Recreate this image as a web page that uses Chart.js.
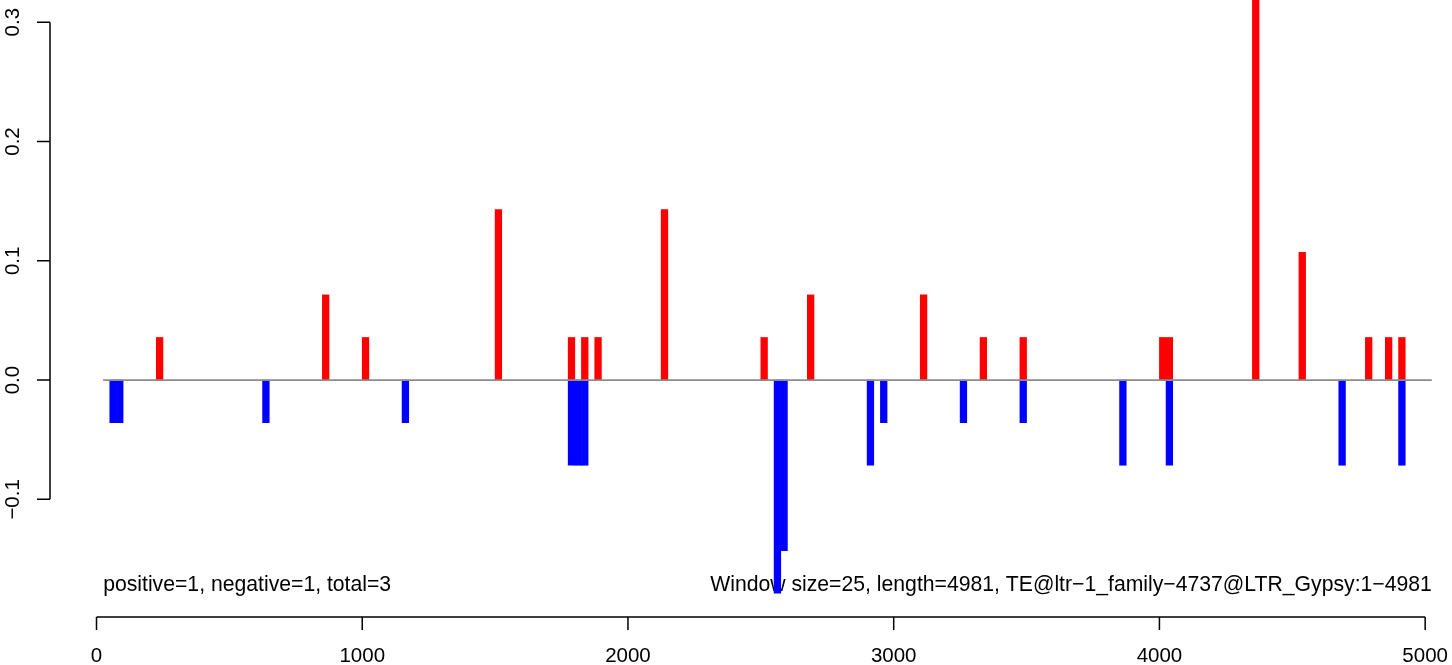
<!DOCTYPE html>
<html><head><meta charset="utf-8">
<script src="https://cdn.jsdelivr.net/npm/chart.js@4"></script>
<style>html,body{margin:0;padding:0;background:#fff;overflow:hidden}#wrap{width:1452px;height:665px;position:relative}</style>
</head><body><div id="wrap"><canvas id="c"></canvas></div>
<script>
const windowSize = 25;
const posStarts = [225, 850, 1000, 1500, 1775, 1825, 1875, 2125, 2500, 2675, 3100, 3325, 3475, 4000, 4025, 4350, 4525, 4775, 4850, 4900];
const posValues = [0.0357, 0.0714, 0.0357, 0.1429, 0.0357, 0.0357, 0.0357, 0.1429, 0.0357, 0.0714, 0.0714, 0.0357, 0.0357, 0.0357, 0.0357, 0.3214, 0.1071, 0.0357, 0.0357, 0.0357];
const negStarts = [50, 75, 625, 1150, 1775, 1800, 1825, 2550, 2575, 2900, 2950, 3250, 3475, 3850, 4025, 4675, 4900];
const negValues = [-0.0357, -0.0357, -0.0357, -0.0357, -0.0714, -0.0714, -0.0714, -0.1786, -0.1429, -0.0714, -0.0357, -0.0357, -0.0357, -0.0714, -0.0714, -0.0714, -0.0714];
const baselineX = [25, 5025];
const xTicks = [0, 1000, 2000, 3000, 4000, 5000];
const xTickLabels = ['0', '1000', '2000', '3000', '4000', '5000'];
const yTicks = [-0.1, 0.0, 0.1, 0.2, 0.3];
const yTickLabels = ['\u22120.1', '0.0', '0.1', '0.2', '0.3'];
const leftNote = 'positive=1, negative=1, total=3';
const rightNote = 'Window size=25, length=4981, TE@ltr\u22121_family\u22124737@LTR_Gypsy:1\u22124981';

const FONT = '"Liberation Sans", Arial, Helvetica, sans-serif';

const rAxes = {
  id: 'rAxes',
  beforeDatasetsDraw(chart) {
    const ctx = chart.ctx, xs = chart.scales.x, ys = chart.scales.y;
    ctx.save();
    ctx.fillStyle = '#000';
    ctx.font = '21.2px ' + FONT;
    ctx.textBaseline = 'middle';
    const ny = ys.getPixelForValue(-0.1718);
    ctx.textAlign = 'left';
    ctx.fillText(leftNote, xs.getPixelForValue(baselineX[0]), ny);
    ctx.textAlign = 'right';
    ctx.fillText(rightNote, xs.getPixelForValue(baselineX[1]), ny);
    ctx.restore();
  },
  afterDraw(chart) {
    const ctx = chart.ctx, xs = chart.scales.x, ys = chart.scales.y;
    const ca = chart.chartArea;
    ctx.save();
    ctx.strokeStyle = '#000'; ctx.fillStyle = '#000'; ctx.lineWidth = 1.5;
    // x axis
    const ax = ca.bottom;
    ctx.beginPath();
    ctx.moveTo(xs.getPixelForValue(xTicks[0]), ax);
    ctx.lineTo(xs.getPixelForValue(xTicks[xTicks.length - 1]), ax);
    xTicks.forEach(v => { const p = xs.getPixelForValue(v); ctx.moveTo(p, ax); ctx.lineTo(p, ax + 13); });
    ctx.stroke();
    ctx.font = '20.5px ' + FONT;
    ctx.textAlign = 'center'; ctx.textBaseline = 'middle';
    xTicks.forEach((v, i) => ctx.fillText(xTickLabels[i], xs.getPixelForValue(v), ax + 39));
    // y axis
    const ay = ca.left;
    ctx.beginPath();
    ctx.moveTo(ay, ys.getPixelForValue(yTicks[0]));
    ctx.lineTo(ay, ys.getPixelForValue(yTicks[yTicks.length - 1]));
    yTicks.forEach(v => { const p = ys.getPixelForValue(v); ctx.moveTo(ay, p); ctx.lineTo(ay - 13, p); });
    ctx.stroke();
    yTicks.forEach((v, i) => {
      ctx.save();
      ctx.translate(ay - 37, ys.getPixelForValue(v));
      ctx.rotate(-Math.PI / 2);
      ctx.fillText(yTickLabels[i], 0, 0);
      ctx.restore();
    });
    ctx.restore();
  }
};

new Chart(document.getElementById('c'), {
  type: 'bar',
  data: {
    datasets: [
      { type: 'line', data: baselineX.map(x => ({ x, y: 0 })), borderColor: '#8c8c8c', borderWidth: 1.6, pointRadius: 0, order: 0 },
      { data: posStarts.map((s, i) => ({ x: s + windowSize / 2, y: posValues[i] })), backgroundColor: '#ff0000', grouped: false, categoryPercentage: 1, barPercentage: 1, order: 1 },
      { data: negStarts.map((s, i) => ({ x: s + windowSize / 2, y: negValues[i] })), backgroundColor: '#0000ff', grouped: false, categoryPercentage: 1, barPercentage: 1, order: 2 }
    ]
  },
  options: {
    responsive: true, maintainAspectRatio: false, animation: false,
    layout: { padding: { left: 50, top: 0, right: 0, bottom: 48 } },
    plugins: { legend: { display: false }, tooltip: { enabled: false } },
    scales: {
      x: { type: 'linear', min: -175, max: 5101, offset: false, display: false },
      y: { type: 'linear', min: -0.1986, max: 0.3186, display: false }
    }
  },
  plugins: [rAxes]
});
</script></body></html>
